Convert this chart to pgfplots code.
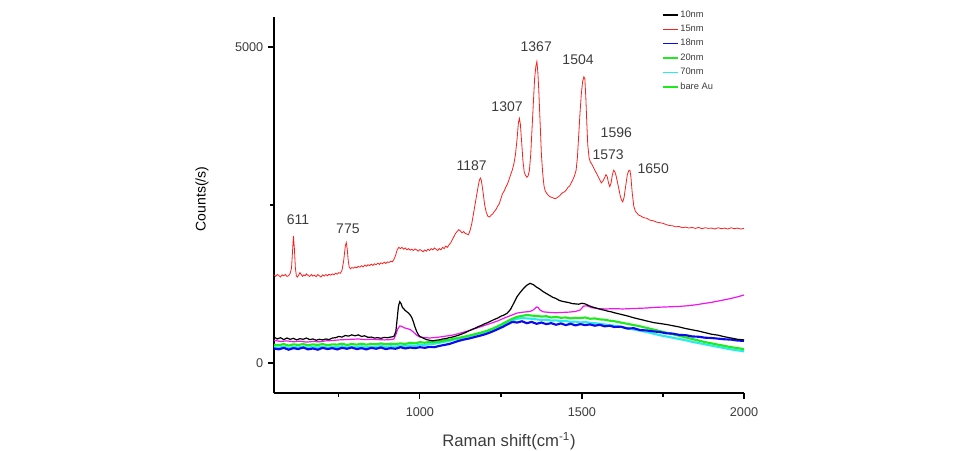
\documentclass[border=0pt]{standalone}
\usepackage{pgfplots}
\pgfplotsset{compat=1.18}
\usepackage{fontspec}
\setmainfont{Liberation Sans}
\definecolor{tickgray}{RGB}{60,60,60}
\definecolor{cred}{RGB}{250,30,30}
\definecolor{cgreen}{RGB}{30,235,30}
\definecolor{ccyan}{RGB}{40,235,235}
\definecolor{cblue}{RGB}{10,10,235}
\definecolor{cmag}{RGB}{240,20,240}
\begin{document}
\begin{tikzpicture}
\path[use as bounding box] (0pt,0pt) rectangle (717.75pt,337.5pt);
\begin{axis}[
  at={(205.5pt,42.75pt)}, anchor=south west,
  scale only axis, width=352.5pt, height=282pt,
  xmin=550, xmax=2000, ymin=-475, ymax=5475,
  axis x line*=bottom, axis y line*=left,
  axis line style={-, line width=1.1pt, black},
  tick align=outside,
  major tick length=4.5pt, minor tick length=3pt,
  every tick/.style={black, line width=0.9pt},
  xtick={1000,1500,2000}, minor xtick={750,1250,1750},
  ytick={0,5000}, minor ytick={2500},
  /pgf/number format/assume math mode=true,
  /pgf/number format/set thousands separator={},
  tick label style={font=\fontsize{9.5}{11}\selectfont, text=tickgray},
  xticklabel style={yshift=-3pt},
  xlabel={Raman shift(cm\textsuperscript{-1})},
  ylabel={Counts(/s)},
  xlabel style={font=\fontsize{12.5}{14}\selectfont, text=tickgray, at={(axis description cs:0.5,-0.142)}, anchor=base},
  ylabel style={font=\fontsize{10.5}{12}\selectfont, text=black, at={(axis description cs:-0.153,0.516)}, anchor=center},
  legend style={at={(axis description cs:0.826,1.021)}, anchor=north west, draw=none, fill=none,
    font=\fontsize{7}{8}\selectfont, text=tickgray, row sep=2.4pt, inner sep=0pt,
    nodes={inner sep=1pt}},
  legend cell align=left,
  legend image code/.code={\draw[#1, line width=1pt] (0cm,0cm) -- (0.4cm,0cm);},
  clip=false,
]
% legend images first, in the legend's order
\addlegendimage{black}
\addlegendimage{cred}
\addlegendimage{cblue}
\addlegendimage{cgreen}
\addlegendimage{ccyan}
\addlegendimage{cgreen}
\legend{10nm,15nm,18nm,20nm,70nm,bare Au}

% 70nm cyan
\addplot[ccyan, line width=1.6pt, forget plot] coordinates {
(550,250)(565,240)(580,260)(595,235)(610,255)(625,245)(640,260)(655,240)(670,255)(685,245)(700,260)(715,240)(730,255)(745,250)(760,265)(775,245)(790,260)(805,250)(820,265)(835,250)(850,260)(865,255)(880,270)(895,255)(910,265)(925,260)(940,270)(955,265)(970,280)(985,270)(1000,290)(1015,285)(1030,300)(1045,305)(1060,320)(1075,335)(1090,350)(1105,370)(1120,385)(1135,405)(1150,420)(1165,440)(1180,460)(1195,480)(1210,505)(1225,535)(1240,565)(1255,600)(1270,635)(1285,670)(1300,700)(1315,710)(1330,705)(1345,700)(1360,690)(1375,680)(1390,685)(1405,670)(1420,675)(1435,660)(1450,665)(1465,650)(1480,655)(1495,640)(1510,650)(1525,635)(1540,630)(1555,620)(1570,610)(1585,600)(1600,590)(1620,570)(1640,550)(1660,530)(1680,510)(1700,490)(1720,465)(1740,440)(1760,420)(1780,400)(1800,380)(1820,360)(1840,335)(1860,315)(1880,295)(1900,275)(1920,255)(1940,235)(1960,215)(1980,200)(2000,185)
};
% 20nm green
\addplot[cgreen, line width=1.6pt, forget plot] coordinates {
(550,290)(565,280)(580,300)(595,275)(610,295)(625,285)(640,300)(655,280)(670,295)(685,285)(700,300)(715,280)(730,295)(745,290)(760,305)(775,285)(790,300)(805,290)(820,305)(835,290)(850,300)(865,295)(880,310)(895,295)(910,305)(925,300)(940,310)(955,300)(970,320)(985,310)(1000,330)(1015,320)(1030,335)(1045,330)(1060,340)(1075,355)(1090,365)(1105,385)(1120,395)(1135,415)(1150,430)(1165,450)(1180,470)(1195,490)(1210,515)(1225,545)(1240,580)(1255,620)(1270,660)(1285,700)(1300,730)(1315,745)(1330,760)(1345,750)(1360,745)(1375,735)(1390,740)(1405,720)(1420,730)(1435,715)(1450,720)(1465,705)(1480,715)(1495,710)(1510,720)(1525,700)(1540,705)(1555,690)(1570,685)(1585,670)(1600,660)(1620,640)(1640,620)(1660,600)(1680,580)(1700,555)(1720,530)(1740,505)(1760,480)(1780,455)(1800,430)(1820,405)(1840,380)(1860,355)(1880,330)(1900,310)(1920,290)(1940,270)(1960,250)(1980,235)(2000,220)
};
% 18nm blue
\addplot[cblue, line width=1.6pt, forget plot] coordinates {
(550,230)(565,215)(580,240)(595,210)(610,235)(625,220)(640,245)(655,215)(670,230)(685,210)(700,240)(715,220)(730,235)(745,215)(760,240)(775,225)(790,245)(805,220)(820,235)(835,215)(850,240)(865,225)(880,245)(895,220)(910,235)(925,225)(940,250)(955,230)(970,245)(985,235)(1000,250)(1015,240)(1030,255)(1045,250)(1060,270)(1075,285)(1090,300)(1105,325)(1120,350)(1135,370)(1150,385)(1165,405)(1180,425)(1195,445)(1210,470)(1225,500)(1240,535)(1255,570)(1270,610)(1285,650)(1300,640)(1315,660)(1330,630)(1345,650)(1360,620)(1375,640)(1390,615)(1405,630)(1420,605)(1435,625)(1450,600)(1465,620)(1480,595)(1495,615)(1510,600)(1525,610)(1540,590)(1555,605)(1570,580)(1585,590)(1600,570)(1620,575)(1640,545)(1660,550)(1680,520)(1700,515)(1720,500)(1740,490)(1760,470)(1780,465)(1800,445)(1820,440)(1840,420)(1860,415)(1880,400)(1900,395)(1920,385)(1940,375)(1960,370)(1980,355)(2000,350)
};
% magenta (not in legend)
\addplot[cmag, line width=0.9pt, forget plot] coordinates {
(550,360)(570,340)(590,350)(610,335)(630,345)(650,330)(670,340)(690,335)(710,350)(730,355)(750,365)(770,370)(790,375)(810,380)(830,370)(850,375)(870,370)(890,365)(910,370)(920,380)(926,450)(932,540)(938,585)(944,580)(950,560)(960,545)(970,530)(980,490)(990,440)(1000,410)(1010,405)(1020,400)(1030,395)(1040,400)(1060,410)(1080,425)(1100,440)(1120,465)(1140,495)(1160,525)(1180,560)(1200,595)(1220,630)(1240,665)(1260,710)(1280,750)(1300,790)(1320,805)(1340,815)(1350,840)(1360,885)(1365,880)(1370,840)(1380,810)(1400,800)(1420,795)(1440,800)(1460,805)(1480,815)(1495,840)(1505,900)(1515,905)(1530,875)(1550,860)(1575,855)(1600,860)(1625,855)(1650,860)(1675,865)(1700,870)(1725,880)(1750,885)(1775,890)(1800,895)(1825,905)(1850,920)(1875,940)(1900,960)(1925,985)(1950,1010)(1975,1040)(2000,1075)
};
% 10nm black
\addplot[black, line width=0.9pt, forget plot] coordinates {
(550,410)(560,380)(570,400)(580,370)(590,395)(600,375)(610,390)(620,365)(630,385)(640,375)(650,395)(660,370)(670,380)(680,360)(690,375)(700,365)(710,380)(720,370)(730,395)(740,400)(750,420)(760,410)(770,435)(780,425)(790,445)(800,430)(810,445)(820,420)(830,430)(840,405)(850,410)(860,395)(870,400)(880,390)(890,405)(900,400)(910,410)(920,420)(926,500)(930,700)(934,900)(938,970)(942,940)(946,880)(950,860)(955,830)(960,810)(965,790)(970,760)(975,720)(980,650)(985,570)(990,500)(995,450)(1000,420)(1010,395)(1020,370)(1030,360)(1040,350)(1050,360)(1060,365)(1070,380)(1080,385)(1090,400)(1100,410)(1110,425)(1120,440)(1130,460)(1140,480)(1150,505)(1160,530)(1170,550)(1180,575)(1190,595)(1200,620)(1210,640)(1220,665)(1230,690)(1240,710)(1250,740)(1260,760)(1270,790)(1280,850)(1290,950)(1300,1050)(1310,1120)(1320,1180)(1330,1230)(1340,1260)(1345,1250)(1350,1240)(1360,1200)(1370,1170)(1380,1130)(1390,1100)(1400,1070)(1410,1040)(1420,1020)(1430,990)(1440,975)(1450,965)(1460,955)(1470,940)(1480,935)(1490,930)(1500,945)(1510,935)(1520,910)(1530,890)(1540,875)(1550,860)(1560,845)(1570,835)(1580,820)(1590,810)(1600,795)(1620,770)(1640,745)(1660,715)(1680,690)(1700,665)(1720,640)(1740,625)(1760,610)(1780,590)(1800,570)(1820,545)(1840,525)(1860,505)(1880,480)(1900,455)(1920,440)(1940,415)(1960,395)(1980,375)(2000,365)
};
% 15nm red
\addplot[cred, line width=0.6pt, forget plot] coordinates {
(550,1395)(555,1370)(560,1400)(565,1385)(570,1360)(575,1395)(580,1380)(585,1400)(590,1370)(595,1380)(600,1420)(604,1500)(607,1750)(610,2010)(613,1800)(616,1500)(619,1380)(622,1360)(626,1390)(630,1430)(634,1400)(638,1370)(642,1395)(646,1380)(650,1410)(655,1385)(660,1370)(665,1400)(670,1375)(675,1390)(680,1365)(685,1400)(690,1380)(695,1360)(700,1395)(705,1375)(710,1400)(715,1380)(720,1405)(725,1390)(730,1410)(735,1395)(740,1420)(745,1405)(750,1430)(755,1420)(760,1470)(765,1620)(770,1850)(773,1905)(776,1800)(779,1620)(782,1520)(786,1490)(790,1510)(795,1500)(800,1520)(805,1505)(810,1530)(815,1515)(820,1540)(825,1520)(830,1550)(835,1530)(840,1555)(845,1540)(850,1565)(855,1545)(860,1570)(865,1555)(870,1580)(875,1560)(880,1585)(885,1570)(890,1595)(895,1575)(900,1600)(905,1590)(910,1610)(915,1600)(920,1640)(925,1700)(930,1790)(935,1830)(940,1810)(945,1830)(950,1800)(955,1820)(960,1790)(965,1810)(970,1785)(975,1800)(980,1780)(985,1805)(990,1790)(995,1770)(1000,1795)(1005,1780)(1010,1760)(1015,1790)(1020,1770)(1025,1800)(1030,1780)(1035,1810)(1040,1790)(1045,1820)(1050,1800)(1055,1780)(1060,1810)(1065,1790)(1070,1830)(1075,1810)(1080,1850)(1085,1830)(1090,1870)(1095,1900)(1100,1950)(1105,2000)(1110,2050)(1115,2080)(1120,2110)(1125,2090)(1130,2060)(1135,2080)(1140,2050)(1145,2040)(1150,2030)(1155,2100)(1160,2200)(1165,2350)(1170,2500)(1175,2650)(1180,2800)(1184,2900)(1187,2925)(1190,2880)(1195,2700)(1200,2500)(1205,2380)(1210,2320)(1215,2310)(1220,2340)(1225,2360)(1230,2400)(1235,2430)(1240,2480)(1245,2520)(1250,2600)(1255,2680)(1260,2720)(1265,2780)(1270,2830)(1275,2900)(1280,2980)(1285,3050)(1290,3150)(1295,3300)(1300,3550)(1304,3800)(1307,3870)(1310,3780)(1314,3500)(1318,3200)(1322,3020)(1326,2970)(1330,2940)(1334,2960)(1338,3050)(1342,3300)(1346,3700)(1350,4100)(1354,4500)(1358,4700)(1361,4770)(1364,4600)(1367,4300)(1371,3800)(1375,3300)(1379,3000)(1383,2800)(1387,2720)(1392,2680)(1397,2650)(1402,2630)(1407,2620)(1412,2610)(1417,2600)(1422,2610)(1427,2630)(1432,2650)(1437,2680)(1442,2700)(1447,2710)(1452,2740)(1457,2780)(1462,2800)(1467,2850)(1472,2900)(1477,2960)(1482,3050)(1486,3250)(1490,3600)(1494,3950)(1498,4250)(1502,4450)(1506,4530)(1509,4500)(1512,4200)(1515,3800)(1518,3450)(1522,3250)(1526,3180)(1530,3150)(1535,3100)(1540,3050)(1545,3000)(1550,2950)(1555,2900)(1560,2850)(1565,2880)(1570,2930)(1574,2980)(1578,2950)(1582,2850)(1586,2790)(1590,2850)(1594,2980)(1598,3050)(1602,3020)(1606,2950)(1610,2850)(1614,2750)(1618,2650)(1622,2580)(1626,2550)(1630,2620)(1635,2800)(1640,2980)(1645,3050)(1648,3050)(1651,2950)(1655,2700)(1660,2480)(1665,2400)(1670,2370)(1675,2340)(1680,2330)(1690,2300)(1700,2290)(1710,2260)(1720,2250)(1730,2230)(1740,2220)(1750,2210)(1760,2190)(1770,2175)(1780,2170)(1790,2155)(1800,2160)(1810,2140)(1820,2150)(1830,2135)(1840,2145)(1850,2130)(1860,2145)(1870,2125)(1880,2140)(1890,2130)(1900,2135)(1910,2120)(1920,2140)(1930,2125)(1940,2135)(1950,2120)(1960,2140)(1970,2125)(1980,2135)(1990,2120)(2000,2130)
};

\begin{scope}[every node/.style={font=\fontsize{10.5}{12}\selectfont, text=tickgray}]
\node at (axis cs:624,2263) {611};
\node at (axis cs:778,2120) {775};
\node at (axis cs:1160,3117) {1187};
\node at (axis cs:1269,4056) {1307};
\node at (axis cs:1359,5005) {1367};
\node at (axis cs:1488,4794) {1504};
\node at (axis cs:1606,3650) {1596};
\node at (axis cs:1581,3302) {1573};
\node at (axis cs:1720,3070) {1650};
\end{scope}
\end{axis}
\end{tikzpicture}
\end{document}
